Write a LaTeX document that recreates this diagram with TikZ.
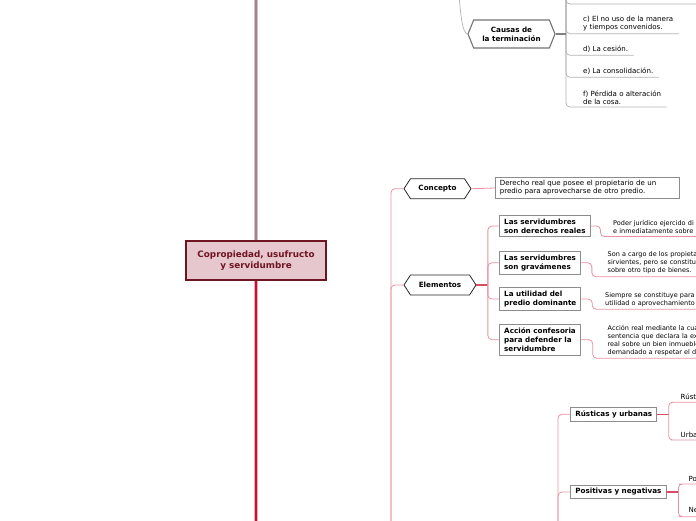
\documentclass[tikz,border=0pt]{standalone}
\usepackage{fontspec}
\setmainfont{DejaVu Sans}
\usepackage{tikz}
\usetikzlibrary{
  shapes.symbols,
  calc
}
\definecolor{granate}{HTML}{6E1423}
\definecolor{rosado}{HTML}{E6C7CD}
\definecolor{carmesi}{HTML}{C8102E}
\definecolor{rosa}{HTML}{E991A2}
\definecolor{grisoscuro}{HTML}{8E8E8E}
\newcommand\letranormal{\fontsize{7.05}{8}\selectfont}
\newcommand\letrachica{\fontsize{6.5}{8}\selectfont}
\newcommand\letranegrita{\fontsize{7.2}{9}\selectfont\bfseries}

\begin{document}
\begin{tikzpicture}[
    x=1pt,
    y=-1pt,
    raiz/.style={draw=granate,line width=1.1pt,fill=rosado,text=granate,
      font=\fontsize{8.8}{11}\selectfont\bfseries,align=center,
      minimum width=140pt,minimum height=39pt},
    hexa/.style={signal,signal to=west and east,draw=black!85,
      line width=0.8pt,fill=white,font=\letranegrita,align=center,inner sep=0pt},
    caja/.style={draw=black!45,line width=0.8pt,fill=white,font=\letranegrita,
      align=left,inner xsep=4.5pt,inner ysep=3.3pt,anchor=west},
    texto/.style={font=\letranormal,align=left,inner xsep=5.5pt,
      inner ysep=2.5pt,anchor=south west},
    nota/.style={texto,font=\letrachica,text width=140pt},
    rama/.style={draw=rosa,line width=0.8pt,rounded corners=4pt},
    rojo/.style={draw=carmesi!75,line width=1.4pt},
    ramagris/.style={draw=black!30,line width=0.7pt,rounded corners=4pt}
    ]

    \clip (0,0) rectangle (696,520);

    \node[raiz] (root) at (256,260.5) {Copropiedad, usufructo\\y servidumbre};

    \coordinate (cima) at (256,-5);
    \coordinate (base) at (256,525);
    \draw[line width=3.6pt,draw=rosa!70] (cima) -- (root.north);
    \draw[line width=2.2pt,draw=grisoscuro] (cima) -- (root.north);
    \draw[line width=3.6pt,draw=carmesi!35] (root.south) -- (base);
    \draw[line width=2.2pt,draw=carmesi] (root.south) -- (base);

    \node[hexa,draw=black!55,line width=1.1pt,minimum width=87pt,
      minimum height=28pt,signal pointer angle=136] (causas) at (511.5,34)
      {Causas de\\la terminación};

    \node[texto] (cc) at (577.5,33.7) {c) El no uso de la manera\\y tiempos convenidos.};
    \node[texto] (cd) at (577.5,55.3) {d) La cesión.};
    \node[texto] (ce) at (577.5,77.3) {e) La consolidación.};
    \node[texto] (cf) at (577.5,107) {f) Pérdida o alteración\\de la cosa.};

    \coordinate (tope) at (566,-5);
    \coordinate (cb) at (700,4);
    \coordinate (arriba) at (459,-5);
    \draw[ramagris] (tope) |- (cb);
    \draw[ramagris] (tope) |- (cc.south west) -- (cc.south east);
    \draw[ramagris] (tope) |- (cd.south west) -- (cd.south east);
    \draw[ramagris] (tope) |- (ce.south west) -- (ce.south east);
    \draw[ramagris] (tope) |- (cf.south west) -- (cf.south east);
    \draw[draw=black!50,line width=1.2pt] (causas.east) -- (causas.east -| tope);
    \draw[ramagris] (causas.west) .. controls (463,33) and (461,20) .. (arriba);

    \node[hexa,minimum width=67pt,minimum height=20pt,
      signal pointer angle=114] (concepto) at (437.5,188.7) {Concepto};
    \node[caja,font=\letranormal,text width=175pt,inner xsep=4.5pt,
      inner ysep=3.2pt] (defconcepto) at (495,188)
      {Derecho real que posee el propietario de un\\predio para aprovecharse de otro predio.};

    \node[hexa,minimum width=72pt,minimum height=20pt,
      signal pointer angle=114] (elementos) at (440,285) {Elementos};

    \node[caja] (reales) at (499.3,226) {Las servidumbres\\son derechos reales};
    \node[caja] (gravamenes) at (499.3,262.8) {Las servidumbres\\son gravámenes};
    \node[caja] (utilidad) at (499.3,299) {La utilidad del\\predio dominante};
    \node[caja] (accion) at (499.3,339.7) {Acción confesoria\\para defender la\\servidumbre};

    \node[nota] (dreales) at (607.5,236.5)
      {Poder jurídico ejercido di\\e inmediatamente sobre};
    \node[nota] (dgravamenes) at (602,276.7)
      {Son a cargo de los propieta\\sirvientes, pero se constitu\\sobre otro tipo de bienes.};
    \node[nota] (dutilidad) at (599.5,309.3)
      {Siempre se constituye para\\utilidad o aprovechamiento};
    \node[nota] (daccion) at (602,358.3)
      {Acción real mediante la cua\\sentencia que declara la ex\\real sobre un bien inmueble\\demandado a respetar el de};

    \coordinate (pie1) at (391,525);
    \draw[rama] (pie1) |- (concepto.west);
    \draw[rama] (pie1) |- (elementos.west);
    \draw[rama] (concepto.east) -- (defconcepto.west);

    \draw[rojo] (elementos.east) -- ++(11.4,0) coordinate (eje);
    \draw[rama] (eje) |- (reales.west);
    \draw[rama] (eje) |- (gravamenes.west);
    \draw[rama] (eje) |- (utilidad.west);
    \draw[rama] (eje) |- (accion.west);

    \draw[rama] (reales.east) -- ++(10,0) |- (dreales.south west) -- (dreales.south east);
    \draw[rama] (gravamenes.east) -- ++(11,0) |- (dgravamenes.south west) -- (dgravamenes.south east);
    \draw[rama] (utilidad.east) -- ++(11,0) |- (dutilidad.south west) -- (dutilidad.south east);
    \draw[rama] (accion.east) -- ++(12,0) |- (daccion.south west) -- (daccion.south east);

    \node[caja] (rusticas) at (570.4,414.3) {Rústicas y urbanas};
    \node[caja] (positivas) at (570.4,492) {Positivas y negativas};

    \coordinate (pie2) at (558,525);
    \draw[rama] (pie2) |- (rusticas.west);
    \draw[rama] (pie2) |- (positivas.west);

    \node[texto] (rust) at (675,402.3) {Rústicas};
    \node[texto] (urb) at (675,440) {Urbanas};
    \draw[rojo] (rusticas.east) -- ++(11.5,0) coordinate (r1);
    \draw[rama] (r1) |- (rust.south west) -- (rust.south east);
    \draw[rama] (r1) |- (urb.south west) -- (urb.south east);

    \node[texto] (posi) at (683,484) {Positivas};
    \node[texto] (nega) at (683,516.7) {Negativas};
    \draw[rojo] (positivas.east) -- ++(12,0) coordinate (p1);
    \draw[rama] (p1) |- (posi.south west) -- (posi.south east);
    \draw[rama] (p1) |- (nega.south west) -- (nega.south east);

\end{tikzpicture}
\end{document}
